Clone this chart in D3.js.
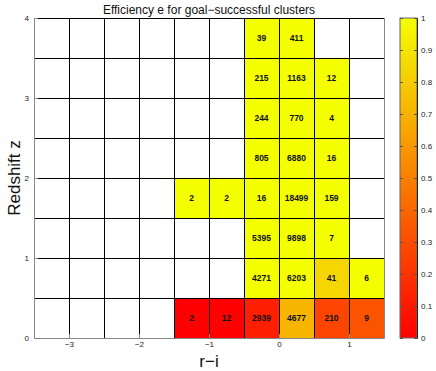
<!DOCTYPE html>
<html>
<head>
<meta charset="utf-8">
<script src="https://cdn.jsdelivr.net/npm/d3@7"></script>
<style>
  body { margin: 0; background: #fff; }
  text { font-family: "Liberation Sans", Arial, sans-serif; }
</style>
</head>
<body>
<svg id="chart" width="436" height="371"></svg>
<script>
// bin left edges (r-i and redshift), each bin is 0.5 wide
const cellRi = [-1.5, -1.0, -0.5, 0.0, 0.5, 1.0,
                -0.5, 0.0, 0.5, 1.0,
                -0.5, 0.0, 0.5,
                -1.5, -1.0, -0.5, 0.0, 0.5,
                -0.5, 0.0, 0.5,
                -0.5, 0.0, 0.5,
                -0.5, 0.0, 0.5,
                -0.5, 0.0];
const cellZ = [0, 0, 0, 0, 0, 0,
               0.5, 0.5, 0.5, 0.5,
               1.0, 1.0, 1.0,
               1.5, 1.5, 1.5, 1.5, 1.5,
               2.0, 2.0, 2.0,
               2.5, 2.5, 2.5,
               3.0, 3.0, 3.0,
               3.5, 3.5];
const cellCount = [2, 12, 2939, 4677, 210, 9,
                   4271, 6203, 41, 6,
                   5395, 9898, 7,
                   2, 2, 16, 18499, 159,
                   805, 6880, 16,
                   244, 770, 4,
                   215, 1163, 12,
                   39, 411];
const cellEff = [0.0, 0.0, 0.12, 0.71, 0.27, 0.33,
                 1, 1, 0.84, 1,
                 1, 1, 1,
                 1, 1, 1, 1, 1,
                 1, 1, 1,
                 1, 1, 1,
                 1, 1, 1,
                 1, 1];
const xTicks = [-3, -2, -1, 0, 1];
const yTicks = [0, 1, 2, 3, 4];
const cbTicks = [0, 0.1, 0.2, 0.3, 0.4, 0.5, 0.6, 0.7, 0.8, 0.9, 1];

const binW = 0.5;
const svg = d3.select("#chart");
const margin = { left: 34, right: 52, top: 18, bottom: 33 };
const W = 436, H = 371;

const x = d3.scaleLinear().domain([-3.5, 1.5]).range([margin.left, W - margin.right]);
const y = d3.scaleLinear().domain([0, 4]).range([H - margin.bottom, margin.top]);
const color = d3.scaleLinear().domain([0, 1]).range(["#ff0000", "#f4ff00"]).clamp(true);

const cells = cellCount.map((n, i) => ({ ri: cellRi[i], z: cellZ[i], n, eff: cellEff[i] }));

// filled cells
svg.append("g").selectAll("rect")
  .data(cells)
  .join("rect")
  .attr("x", d => x(d.ri))
  .attr("y", d => y(d.z + binW))
  .attr("width", d => x(d.ri + binW) - x(d.ri))
  .attr("height", d => y(d.z) - y(d.z + binW))
  .attr("fill", d => color(d.eff));

// grid of bin edges
const grid = svg.append("g").attr("stroke", "#000").attr("stroke-width", 1).attr("shape-rendering", "crispEdges");
d3.range(-3.5, 1.5 + 0.01, binW).forEach(v => {
  grid.append("line").attr("x1", x(v)).attr("x2", x(v)).attr("y1", y(0)).attr("y2", y(4));
});
d3.range(0, 4 + 0.01, binW).forEach(v => {
  grid.append("line").attr("x1", x(-3.5)).attr("x2", x(1.5)).attr("y1", y(v)).attr("y2", y(v));
});

// counts
svg.append("g").selectAll("text")
  .data(cells)
  .join("text")
  .attr("x", d => x(d.ri + binW / 2))
  .attr("y", d => y(d.z + binW / 2) + 3)
  .attr("text-anchor", "middle")
  .attr("font-size", 8.5)
  .attr("font-weight", "bold")
  .attr("fill", "#111")
  .text(d => d.n);

// axes
const minus = d => d < 0 ? "\u2212" + Math.abs(d) : String(d);
const xAxis = svg.append("g").attr("transform", `translate(0,${y(0)})`)
  .call(d3.axisBottom(x).tickValues(xTicks).tickSize(-4).tickPadding(3).tickFormat(minus));
const yAxis = svg.append("g").attr("transform", `translate(${x(-3.5)},0)`)
  .call(d3.axisLeft(y).tickValues(yTicks).tickSize(-4).tickPadding(5).tickFormat(minus));
[xAxis, yAxis].forEach(a => {
  a.select(".domain").attr("stroke", "#888");
  a.selectAll(".tick line").attr("stroke", "#888");
  a.selectAll("text").attr("font-size", 8).attr("fill", "#222")
    .style("font-family", "'Liberation Sans', Arial, sans-serif");
});
// right border of the box
svg.append("line").attr("x1", x(1.5)).attr("x2", x(1.5)).attr("y1", y(0)).attr("y2", y(4))
  .attr("stroke", "#888").attr("shape-rendering", "crispEdges");

// labels
svg.append("text").attr("x", (x(-3.5) + x(1.5)) / 2).attr("y", 14)
  .attr("text-anchor", "middle").attr("font-size", 12).attr("fill", "#111")
  .text("Efficiency e for goal\u2212successful clusters");
svg.append("text").attr("x", (x(-3.5) + x(1.5)) / 2).attr("y", 367)
  .attr("text-anchor", "middle").attr("font-size", 17).attr("fill", "#111")
  .text("r\u2212i");
svg.append("text").attr("transform", `translate(20,${(y(0) + y(4)) / 2}) rotate(-90)`)
  .attr("text-anchor", "middle").attr("font-size", 17).attr("fill", "#111")
  .text("Redshift z");

// colorbar
const cbX = 400, cbW = 17;
const cbY = d3.scaleLinear().domain([0, 1]).range([y(0), y(4)]);
const defs = svg.append("defs");
const grad = defs.append("linearGradient").attr("id", "cbgrad")
  .attr("x1", 0).attr("x2", 0).attr("y1", 1).attr("y2", 0);
grad.append("stop").attr("offset", "0%").attr("stop-color", color(0));
grad.append("stop").attr("offset", "100%").attr("stop-color", color(1));
svg.append("rect").attr("x", cbX).attr("y", cbY(1)).attr("width", cbW)
  .attr("height", cbY(0) - cbY(1)).attr("fill", "url(#cbgrad)")
  .attr("stroke", "#666").attr("stroke-width", 1);
const cbAxis = svg.append("g").attr("transform", `translate(${cbX + cbW},0)`)
  .call(d3.axisRight(cbY).tickValues(cbTicks).tickSize(-3).tickPadding(4).tickFormat(d3.format("")));
cbAxis.select(".domain").attr("stroke", "#222");
cbAxis.selectAll(".tick line").attr("stroke", "#555");
cbAxis.selectAll("text").attr("font-size", 8).attr("fill", "#222")
  .style("font-family", "'Liberation Sans', Arial, sans-serif");
cbAxis.selectAll(".tick").append("line").attr("x1", -cbW).attr("x2", -cbW + 3).attr("stroke", "#555");
</script>
</body>
</html>
